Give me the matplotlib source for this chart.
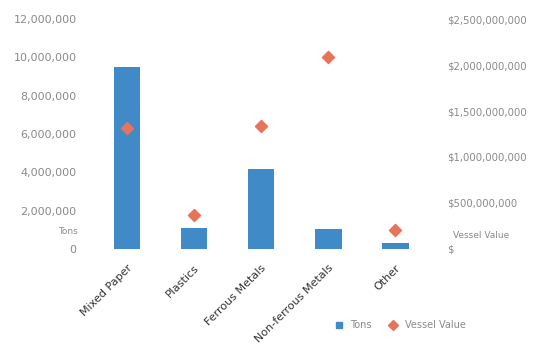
import matplotlib.pyplot as plt
from matplotlib.ticker import FuncFormatter
from matplotlib.lines import Line2D

# Materials handled: tonnage and vessel value
categories = ['Mixed Paper', 'Plastics', 'Ferrous Metals', 'Non-ferrous Metals', 'Other']
tons = [9500000, 1090000, 4160000, 1040000, 300000]
vessel_value = [1320000000, 368000000, 1342000000, 2089000000, 206000000]

bar_color = '#3f8ac7'
dot_color = '#e8735a'
label_gray = '#8a8a8a'

fig = plt.figure(figsize=(5.56, 3.54), dpi=100)
ax = fig.add_axes([0.168, 0.297, 0.603, 0.649])
ax2 = ax.twinx()

x = range(len(categories))
ax.bar(x, tons, width=0.4, color=bar_color, zorder=2)
ax2.scatter(x, vessel_value, marker='D', s=38, color=dot_color, zorder=3)

ax.set_xlim(-0.5, len(categories) - 0.5)
ax.set_ylim(0, 12000000)
ax2.set_ylim(0, 2500000000)
ax.set_yticks(range(0, 12000001, 2000000))
ax2.set_yticks(range(0, 2500000001, 500000000))

ax.yaxis.set_major_formatter(FuncFormatter(lambda v, p: f'{int(v):,}'))
ax2.yaxis.set_major_formatter(FuncFormatter(lambda v, p: f'${int(v):,}' if v else '$'))

for a in (ax, ax2):
    for s in a.spines.values():
        s.set_visible(False)
    a.tick_params(length=0)
ax.tick_params(axis='y', labelsize=8, labelcolor=label_gray, pad=12)
ax2.tick_params(axis='y', labelsize=7.3, labelcolor=label_gray, pad=13)

ax.set_xticks(list(x))
ax.set_xticklabels(categories, rotation=45, ha='right', rotation_mode='anchor',
                   fontsize=8, color='#333333')
ax.tick_params(axis='x', pad=10)

# axis captions sit just above the zero lines
fig.text(0.123, 0.338, 'Tons', fontsize=6.5, color=label_gray, ha='center')
fig.text(0.865, 0.327, 'Vessel Value', fontsize=6.5, color=label_gray, ha='center')

handles = [
    Line2D([], [], marker='s', color=bar_color, linestyle='none', markersize=5),
    Line2D([], [], marker='D', color=dot_color, linestyle='none', markersize=5),
]
fig.legend(handles, ['Tons', 'Vessel Value'], loc='center', bbox_to_anchor=(0.715, 0.082),
           ncol=2, frameon=False, fontsize=7, handletextpad=0.2, columnspacing=1.2,
           labelcolor=label_gray)

fig.savefig('out.png', dpi=100)
